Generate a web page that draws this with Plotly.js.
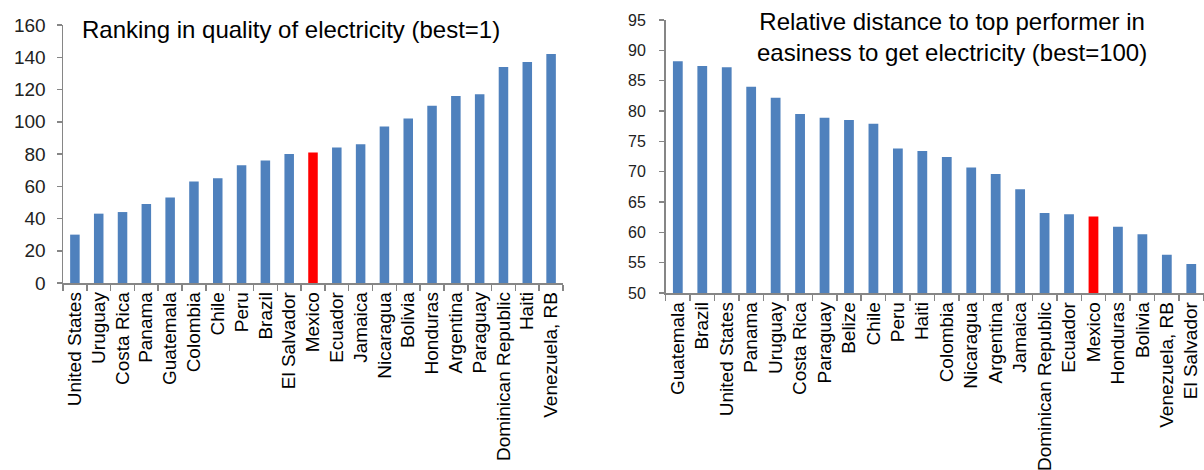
<!DOCTYPE html>
<html>
<head>
<meta charset="utf-8">
<script src="https://cdn.plot.ly/plotly-3.0.1.min.js"></script>
<style>html,body{margin:0;padding:0;background:#fff;}#chart{width:1204px;height:470px;}</style>
</head>
<body>
<div id="chart"></div>
<script>
// Left chart: ranking in quality of electricity (best=1)
const qualityCountries = ["United States","Uruguay","Costa Rica","Panama","Guatemala","Colombia","Chile","Peru","Brazil","El Salvador","Mexico","Ecuador","Jamaica","Nicaragua","Bolivia","Honduras","Argentina","Paraguay","Dominican Republic","Haiti","Venezuela, RB"];
const qualityRank = [30,43,44,49,53,63,65,73,76,80,81,84,86,97,102,110,116,117,134,137,142];

// Right chart: relative distance to top performer (best=100)
const easeCountries = ["Guatemala","Brazil","United States","Panama","Uruguay","Costa Rica","Paraguay","Belize","Chile","Peru","Haiti","Colombia","Nicaragua","Argentina","Jamaica","Dominican Republic","Ecuador","Mexico","Honduras","Bolivia","Venezuela, RB","El Salvador"];
const easeScore = [88.2,87.4,87.2,84.0,82.2,79.5,78.9,78.5,77.9,73.8,73.4,72.4,70.7,69.6,67.1,63.2,63.0,62.6,60.9,59.7,56.3,54.8];

const leftTicks = [0,20,40,60,80,100,120,140,160];
const rightTicks = [50,55,60,65,70,75,80,85,90,95];

const highlight = "Mexico";
const BLUE = "#4F81BD", RED = "#FF0000";
const colorsFor = arr => arr.map(c => c === highlight ? RED : BLUE);

const FONT = "Liberation Sans, Arial, sans-serif";
const AXIS = "#868686";

const traces = [
  {type:"bar", x:qualityCountries, y:qualityRank, xaxis:"x", yaxis:"y",
   marker:{color:colorsFor(qualityCountries), line:{width:0}}, width:0.4, hoverinfo:"x+y"},
  {type:"bar", x:easeCountries, y:easeScore, xaxis:"x2", yaxis:"y2",
   marker:{color:colorsFor(easeCountries), line:{width:0}}, width:0.4, hoverinfo:"x+y"}
];

const xCommon = {type:"category", showline:true, linecolor:AXIS, linewidth:1.5,
  ticks:"outside", tickson:"boundaries", ticklen:6, tickcolor:AXIS, tickwidth:1.5,
  tickangle:-90, showgrid:false, zeroline:false, automargin:false,
  tickfont:{family:FONT, size:19, color:"#000"}};

const yCommon = {showline:true, linecolor:AXIS, linewidth:1.5, ticks:"outside", ticklen:5,
  tickcolor:AXIS, tickwidth:1.5, showgrid:false, zeroline:false, automargin:false};

const layout = {
  width:1204, height:470, showlegend:false, bargap:0.6,
  paper_bgcolor:"#fff", plot_bgcolor:"#fff",
  margin:{l:0, r:0, t:0, b:0},
  xaxis:Object.assign({}, xCommon, {domain:[63/1204, 563/1204], anchor:"y"}),
  yaxis:Object.assign({}, yCommon, {domain:[(470-283)/470, (470-25)/470], anchor:"x",
     range:[0,160], tickmode:"array", tickvals:leftTicks, ticktext:leftTicks.map(String),
     ticklabelstandoff:7, tickfont:{family:FONT, size:19, color:"#222"}}),
  xaxis2:Object.assign({}, xCommon, {domain:[665.6/1204, 1203.5/1204], anchor:"y2"}),
  yaxis2:Object.assign({}, yCommon, {domain:[(470-293)/470, (470-20)/470], anchor:"x2",
     range:[50,95], tickmode:"array", tickvals:rightTicks, ticktext:rightTicks.map(String),
     ticklabelstandoff:10, tickfont:{family:FONT, size:16, color:"#222"}}),
  annotations:[
    {text:"Ranking in quality of electricity (best=1)", xref:"paper", yref:"paper",
     x:291/1204, y:(470-30)/470, xanchor:"center", yanchor:"middle", showarrow:false,
     font:{family:FONT, size:24, color:"#000"}},
    {text:"Relative distance to top performer in<br>easiness to get electricity (best=100)", xref:"paper", yref:"paper",
     x:952/1204, y:(470-37)/470, xanchor:"center", yanchor:"middle", showarrow:false,
     font:{family:FONT, size:24, color:"#000"}}
  ]
};

Plotly.newPlot("chart", traces, layout, {displayModeBar:false, staticPlot:true});
</script>
</body>
</html>
